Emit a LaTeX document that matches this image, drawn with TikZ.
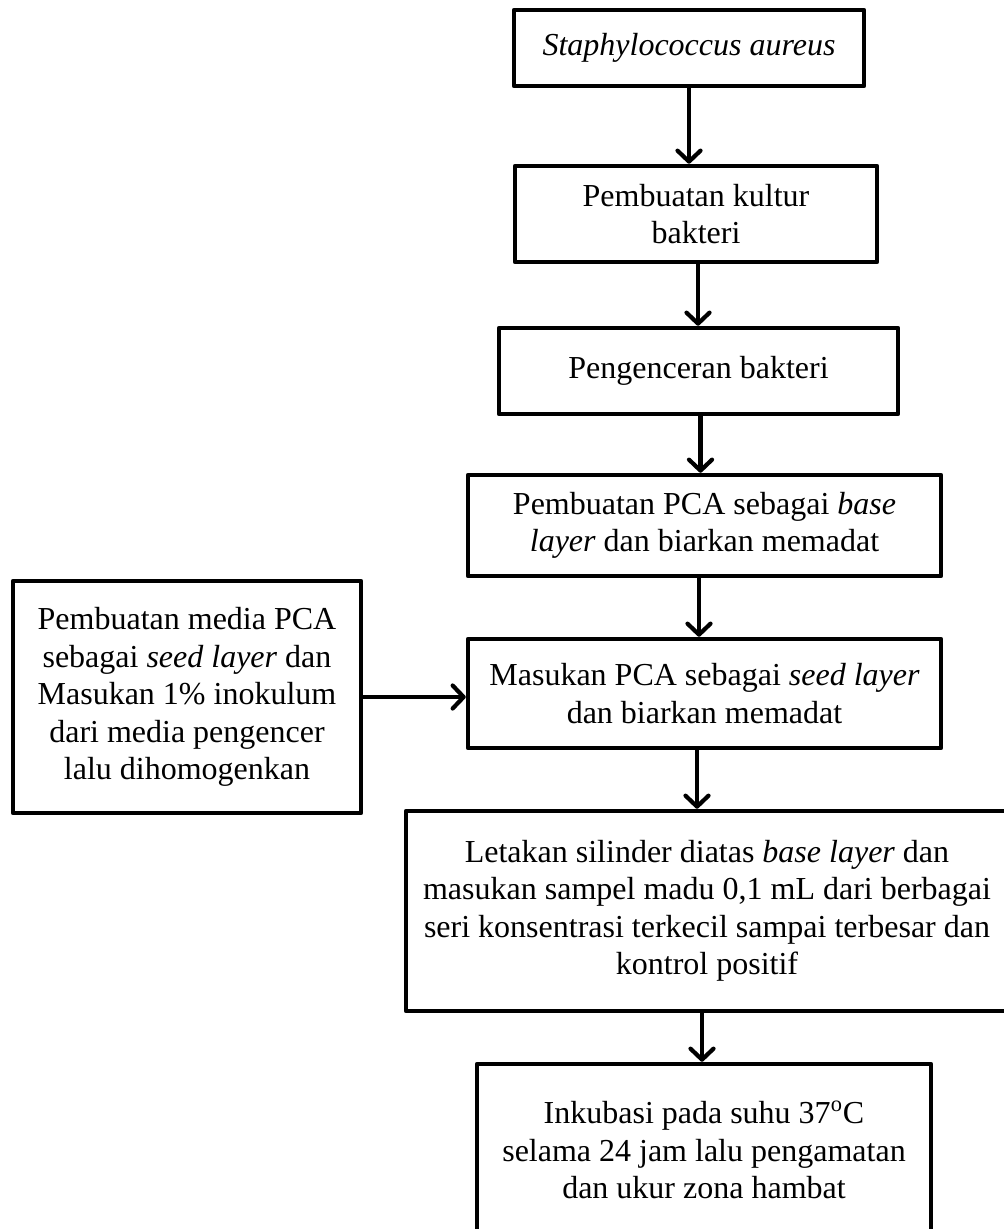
\documentclass[tikz,border=0pt]{standalone}
\usepackage{fontspec}
\setmainfont{Liberation Serif}
\usetikzlibrary{arrows.meta}
\begin{document}
\begin{tikzpicture}[x=0.5pt,y=-0.5pt,
  box/.style={draw, line width=2.25pt, line join=round, inner sep=0pt,
    align=center, font=\fontsize{16}{18.75}\selectfont},
  arr/.style={line width=2.1pt, line cap=round,
    -{Straight Barb[length=5.5pt,width=11.5pt,line width=2.1pt,round]}}]
\useasboundingbox (0,0) rectangle (1004,1229);
\clip (0,0) rectangle (1004,1229);
\fill[white] (0,0) rectangle (1004,1229);
\node[box, minimum width=175pt, minimum height=38pt] (b1) at (689,48)
  {\itshape Staphylococcus aureus};
\node[box, minimum width=181pt, minimum height=48pt] (b2) at (696,214)
  {Pembuatan kultur\\bakteri};
\node[box, minimum width=199.5pt, minimum height=43pt] (b3) at (698.5,371)
  {Pengenceran bakteri};
\node[box, minimum width=236.5pt, minimum height=50.5pt] (b4) at (704.5,525.5)
  {Pembuatan PCA sebagai \textit{base}\\\textit{layer} dan biarkan memadat};
\node[box, minimum width=236.5pt, minimum height=54.5pt] (b5) at (704.5,693.5)
  {Masukan PCA sebagai \textit{seed layer}\\dan biarkan memadat};
\node[box, minimum width=174pt, minimum height=116pt] (b6) at (187,697)
  {Pembuatan media PCA\\sebagai \textit{seed layer} dan\\Masukan 1\% inokulum\\dari media pengencer\\lalu dihomogenkan};
\node[box, minimum width=301pt, minimum height=100pt] (b7) at (707,911)
  {Letakan silinder diatas \textit{base layer} dan\\masukan sampel madu 0,1 mL dari berbagai\\seri konsentrasi terkecil sampai terbesar dan\\kontrol positif};
\node[box, minimum width=227pt, minimum height=86pt] (b8) at (704,1150)
  {Inkubasi pada suhu 37\textsuperscript{o}C\\selama 24 jam lalu pengamatan\\dan ukur zona hambat};
\draw[arr] (b1.south) -- (b1.south |- b2.north);
\draw[arr] ([xshift=1pt]b2.south) -- ([xshift=1pt]b2.south |- b3.north);
\draw[arr] ([xshift=1pt]b3.south) -- ([xshift=1pt]b3.south |- b4.north);
\draw[arr] ([xshift=-2.75pt]b4.south) -- ([xshift=-2.75pt]b4.south |- b5.north);
\draw[arr] (b6.east) -- (b5.west |- b6.east);
\draw[arr] ([xshift=-3.75pt]b5.south) -- ([xshift=-3.75pt]b5.south |- b7.north);
\draw[arr] ([xshift=-2.5pt]b7.south) -- ([xshift=-2.5pt]b7.south |- b8.north);
\end{tikzpicture}
\end{document}
